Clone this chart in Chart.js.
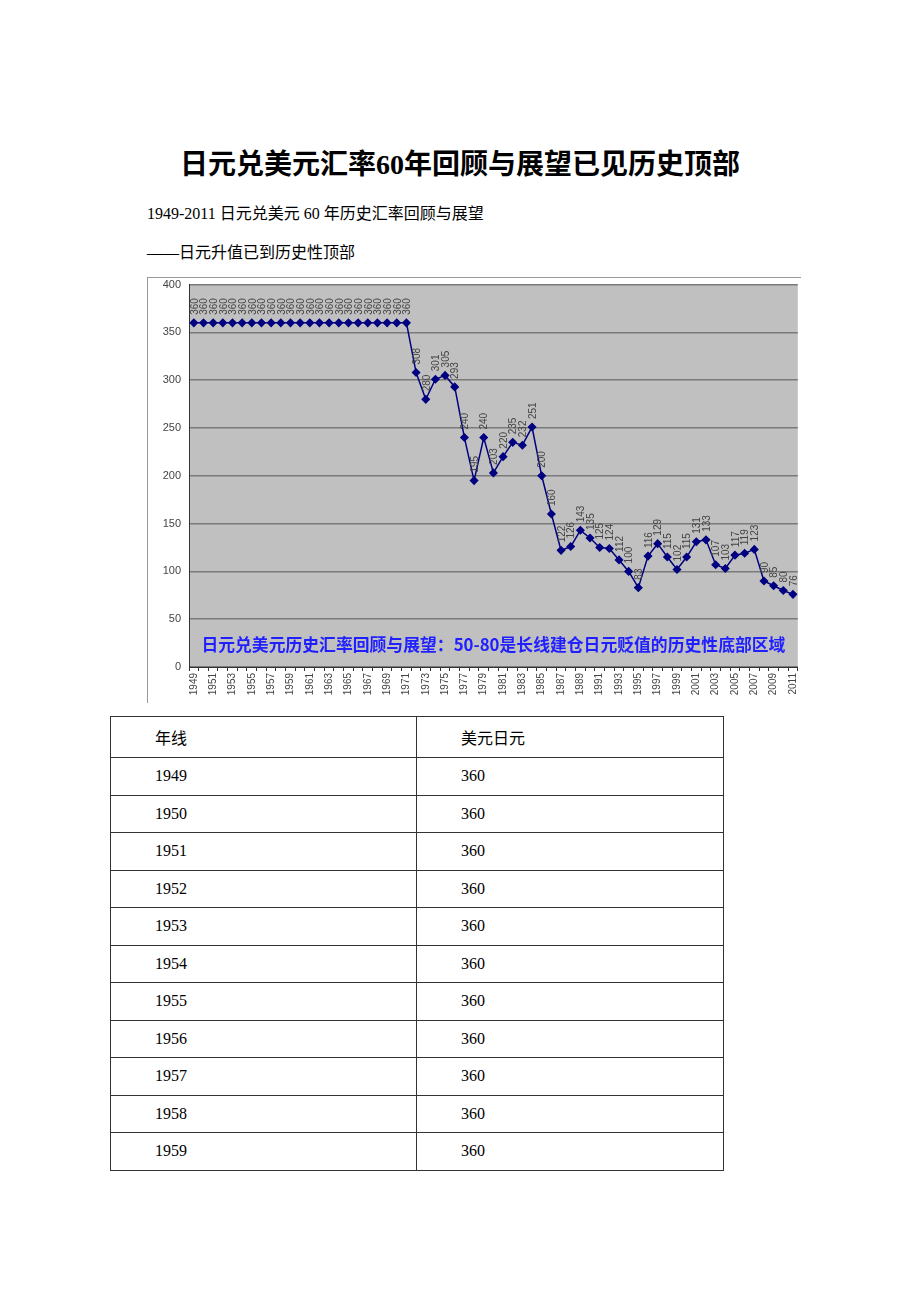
<!DOCTYPE html>
<html>
<head>
<meta charset="utf-8">
<script src="https://cdn.jsdelivr.net/npm/chart.js@4"></script>
<style>
  body { margin: 0; background: #fff; width: 920px; height: 1302px; position: relative;
         font-family: "Liberation Serif", "Noto Sans CJK SC", serif; color: #000; }
  .title { position: absolute; left: 0; width: 920px; top: 148px; text-align: center;
           font-size: 28px; font-weight: bold; line-height: 34px; }
  .line { position: absolute; left: 147px; font-size: 16px; line-height: 20px; }
  .chart-box { position: absolute; left: 147px; top: 277px; width: 654px; height: 426px;
               border-top: 1px solid #999; border-left: 1px solid #999; box-sizing: border-box; }
  .chart-inner { position: absolute; left: -1px; top: -8px; width: 660px; height: 433px; }
  table { position: absolute; left: 110px; top: 716px; width: 613px; border-collapse: collapse;
          font-size: 16px; table-layout: fixed; }
  td { border: 1px solid #333; padding: 0 0 0 44px; height: 36.5px; vertical-align: middle; }
  tr.head td { height: 40px; }
</style>
</head>
<body>
<div class="title">日元兑美元汇率60年回顾与展望已见历史顶部</div>
<div class="line" style="top:204px">1949-2011 日元兑美元 60 年历史汇率回顾与展望</div>
<div class="line" style="top:243px">——日元升值已到历史性顶部</div>
<div class="chart-box"><div class="chart-inner"><canvas id="myChart"></canvas></div></div>
<table id="tbl"><colgroup><col style="width:306px"><col style="width:307px"></colgroup></table>
<script>
// data
const years = [];
for (let y = 1949; y <= 2011; ++y) years.push(String(y));
const rates = [360,360,360,360,360,360,360,360,360,360,360,360,360,360,360,360,360,360,360,360,360,360,360,
  308,280,301,305,293,240,195,240,203,220,235,232,251,200,160,122,126,143,135,125,124,112,100,83,
  116,129,115,102,115,131,133,107,103,117,119,123,90,85,80,76];
const yTicks = [0,50,100,150,200,250,300,350,400];
const note = "日元兑美元历史汇率回顾与展望：50-80是长线建仓日元贬值的历史性底部区域";
const tableHead = ["年线", "美元日元"];
const tableRows = 11;

// plot background + point labels + note
const chartExtras = {
  id: 'chartExtras',
  beforeDraw(chart) {
    const a = chart.chartArea;
    const ctx = chart.ctx;
    ctx.save();
    ctx.fillStyle = '#c0c0c0';
    ctx.fillRect(a.left, a.top, a.right - a.left, a.bottom - a.top);
    ctx.restore();
  },
  afterDatasetsDraw(chart) {
    const ctx = chart.ctx;
    const meta = chart.getDatasetMeta(0);
    ctx.save();
    ctx.font = '10px "Liberation Sans"';
    ctx.fillStyle = '#444';
    meta.data.forEach(function(pt, i) {
      ctx.save();
      ctx.translate(pt.x + 1, pt.y - 8);
      ctx.rotate(-Math.PI / 2);
      ctx.textAlign = 'left';
      ctx.textBaseline = 'middle';
      ctx.fillText(String(rates[i]), 0, 0);
      ctx.restore();
    });
    // blue note
    const a = chart.chartArea;
    ctx.font = 'bold 17px "Noto Sans CJK SC"';
    ctx.fillStyle = '#1f1fff';
    ctx.textAlign = 'center';
    ctx.textBaseline = 'middle';
    ctx.fillText(note, (a.left + a.right) / 2, a.bottom - 22, 584);
    ctx.restore();
  }
};

const config = {
  type: 'line',
  data: {
    labels: years,
    datasets: [{
      data: rates,
      borderColor: '#000080',
      backgroundColor: '#000080',
      borderWidth: 1.5,
      pointStyle: 'rectRot',
      pointRadius: 3.5,
      pointBackgroundColor: '#000080',
      pointBorderColor: '#000080',
      tension: 0
    }]
  },
  options: {
    responsive: true,
    maintainAspectRatio: false,
    animation: false,
    layout: { padding: { top: 1, right: 0, left: 0, bottom: 0 } },
    plugins: { legend: { display: false }, tooltip: { enabled: false } },
    scales: {
      x: {
        offset: true,
        grid: { drawOnChartArea: false, drawTicks: true, tickLength: 4, color: '#333', offset: true },
        border: { display: true, color: '#333', width: 1 },
        ticks: {
          autoSkip: false,
          minRotation: 90,
          maxRotation: 90,
          color: '#444',
          font: { size: 10, family: 'Liberation Sans' },
          padding: 2,
          callback: function(v, i) { return i % 2 == 0 ? years[i] : ''; }
        },
        afterFit: function(s) { s.height = 36; }
      },
      y: {
        min: 0,
        max: 400,
        afterBuildTicks: function(s) { s.ticks = yTicks.map(function(v) { return { value: v }; }); },
        grid: { color: '#7a7a7a', lineWidth: 1.5, drawTicks: false },
        border: { display: true, color: '#333', width: 1 },
        ticks: { color: '#444', font: { size: 11, family: 'Liberation Sans' }, padding: 8 },
        afterFit: function(s) { s.width = 42; }
      }
    }
  },
  plugins: [chartExtras]
};

new Chart(document.getElementById('myChart'), config);

// table
const tbl = document.getElementById('tbl');
let head = document.createElement('tr');
head.classList.add('head');
tableHead.forEach(function(t) {
  let td = document.createElement('td');
  td.innerText = t;
  head.appendChild(td);
});
tbl.appendChild(head);
for (let i = 0; i < tableRows; ++i) {
  let tr = document.createElement('tr');
  let c1 = document.createElement('td');
  c1.innerText = years[i];
  let c2 = document.createElement('td');
  c2.innerText = rates[i];
  tr.appendChild(c1);
  tr.appendChild(c2);
  tbl.appendChild(tr);
}
</script>
</body>
</html>
